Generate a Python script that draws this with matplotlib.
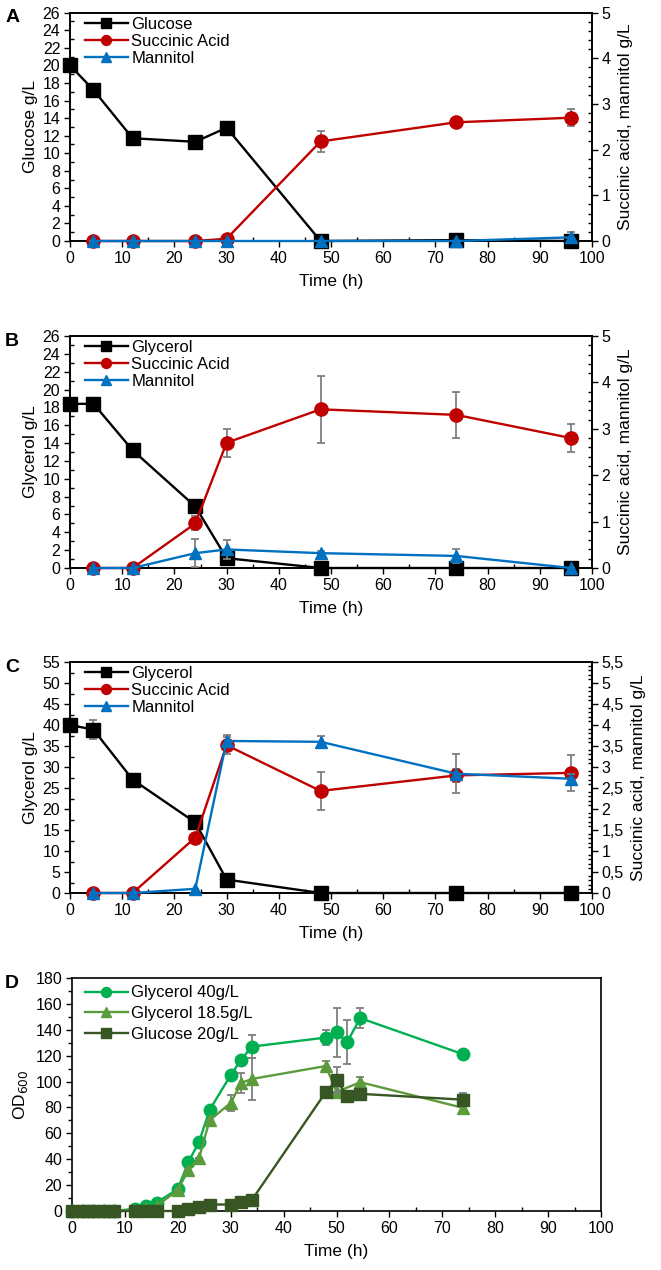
import numpy as np
import matplotlib
matplotlib.use("Agg")
import matplotlib.pyplot as plt
from matplotlib.ticker import MultipleLocator, FuncFormatter

# ---------------------------------------------------------------- data
t_main = [0, 4.5, 12, 24, 30, 48, 74, 96]      # substrate sampling times (h)
t_prod = [4.5, 12, 24, 30, 48, 74, 96]         # product sampling times (h)

# panel A (glucose 20 g/L)
glc_A = [20, 17.2, 11.7, 11.3, 12.9, 0, 0.1, 0]
glc_A_err = [0, 0, 0, 0, 0, 0, 0, 0]
sa_A = [0, 0, 0, 0.05, 2.18, 2.6, 2.7]
sa_A_err = [0, 0, 0, 0, 0.22, 0.05, 0.18]
man_A = [0, 0, 0, 0, 0, 0, 0.08]
man_A_err = [0, 0, 0, 0, 0, 0, 0.12]

# panel B (glycerol 18.5 g/L)
gly_B = [18.4, 18.4, 13.2, 6.9, 1.1, 0, 0, 0]
gly_B_err = [0, 0, 0, 0.7, 0, 0, 0, 0]
sa_B = [0, 0, 0.96, 2.7, 3.42, 3.3, 2.8]
sa_B_err = [0, 0, 0.15, 0.3, 0.72, 0.5, 0.3]
man_B = [0, 0, 0.32, 0.4, 0.32, 0.26, 0]
man_B_err = [0, 0, 0.3, 0.2, 0.05, 0.15, 0]

# panel C (glycerol 40 g/L)
gly_C = [40, 38.9, 27, 16.8, 3.2, 0, 0, 0]
gly_C_err = [0, 2.3, 0, 0, 0, 0, 0, 0]
sa_C = [0, 0, 1.32, 3.52, 2.43, 2.8, 2.86]
sa_C_err = [0, 0, 0, 0.2, 0.45, 0.15, 0.43]
man_C = [0, 0, 0.1, 3.62, 3.6, 2.84, 2.72]
man_C_err = [0, 0, 0, 0.15, 0.14, 0.47, 0.12]

# panel D (OD600)
t_g40 = [0, 2, 4, 6, 8, 12, 14, 16, 20, 22, 24, 26, 30, 32, 34, 48, 50, 52, 54.5, 74]
od_g40 = [0, 0, 0, 0, 0, 1.8, 3.9, 6.5, 17, 38, 53, 78, 105, 117, 127, 134, 138, 130.5, 149, 121]
od_g40_err = [0, 0, 0, 0, 0, 0, 0, 0, 0, 0, 0, 0, 0, 0, 9, 6, 19, 17, 8, 2]
t_g18 = [0, 2, 4, 6, 8, 12, 14, 16, 20, 22, 24, 26, 30, 32, 34, 48, 50, 54.5, 74]
od_g18 = [0, 0, 0, 0, 0, 1, 2, 4, 16, 32, 40.6, 70, 83.5, 99, 102, 112, 92, 99.5, 79.6]
od_g18_err = [0, 0, 0, 0, 0, 0, 0, 0, 0, 0, 0, 0, 6, 7.5, 16.5, 4, 0, 4, 4]
t_glc = [0, 2, 4, 6, 8, 12, 14, 16, 20, 22, 24, 26, 30, 32, 34, 48, 50, 52, 54.5, 74]
od_glc = [0, 0, 0, 0, 0, 0, 0, 0, 0, 1.8, 3, 5, 5, 7, 8.5, 92, 101, 89, 90.5, 86]
od_glc_err = [0, 0, 0, 0, 0, 0, 0, 0, 0, 0, 0, 0, 0, 0, 0, 0, 10, 0, 0, 5]

# ---------------------------------------------------------------- style
plt.rcParams["font.family"] = ["Liberation Sans", "DejaVu Sans"]
plt.rcParams["font.size"] = 11

black = "#000000"
red = "#c00000"
blue = "#0070c0"
err_color = "#7f7f7f"
lw = 1.7
tick_fs = 11.5
label_fs = 12.5
legend_fs = 12

fig = plt.figure(figsize=(6.61, 12.70), dpi=100)


def style_ticks(ax):
    ax.tick_params(axis="both", which="major", direction="out", length=4, width=1,
                   labelsize=tick_fs, pad=3)
    ax.tick_params(axis="both", which="minor", direction="in", length=3, width=1)
    for s in ax.spines.values():
        s.set_linewidth(1.2)


def series(ax, t, y, err, color, marker, ms, label, z):
    ax.errorbar(t, y, yerr=err, fmt="none", ecolor=err_color, elinewidth=1.3,
                capsize=3, capthick=1.3, zorder=z - 0.5, clip_on=False)
    line, = ax.plot(t, y, color=color, marker=marker, markersize=ms, linewidth=lw,
                    label=label, zorder=z, clip_on=False)
    return line


def panel(rect, letter, sub_name, sub, sub_err, sa, sa_err, man, man_err,
          ymax, ystep, yminor, y2max, y2step, y2minor, comma=False):
    ax = fig.add_axes(rect)
    ax2 = ax.twinx()

    h1 = series(ax, t_main, sub, sub_err, black, "s", 10, sub_name, 3)
    h2 = series(ax2, t_prod, sa, sa_err, red, "o", 9.5, "Succinic Acid", 4)
    h3 = series(ax2, t_prod, man, man_err, blue, "^", 9, "Mannitol", 5)

    ax.set_xlim(0, 100)
    ax.set_ylim(0, ymax)
    ax2.set_ylim(0, y2max)
    ax.xaxis.set_major_locator(MultipleLocator(10))
    ax.xaxis.set_minor_locator(MultipleLocator(5))
    ax.yaxis.set_major_locator(MultipleLocator(ystep))
    ax.yaxis.set_minor_locator(MultipleLocator(yminor))
    ax2.yaxis.set_major_locator(MultipleLocator(y2step))
    ax2.yaxis.set_minor_locator(MultipleLocator(y2minor))
    if comma:
        ax2.yaxis.set_major_formatter(
            FuncFormatter(lambda v, p: ("%g" % v).replace(".", ",")))
    style_ticks(ax)
    style_ticks(ax2)

    ax.set_xlabel("Time (h)", fontsize=label_fs, labelpad=6)
    ax.set_ylabel(sub_name + " g/L", fontsize=label_fs, labelpad=3)
    ax2.set_ylabel("Succinic acid, mannitol g/L", fontsize=label_fs, labelpad=5)

    ax2.legend(handles=[h1, h2, h3], loc="upper left", frameon=False,
               fontsize=legend_fs, handlelength=2.6, handletextpad=0.2,
               labelspacing=0.12, borderpad=0.25, borderaxespad=0.0,
               markerscale=0.75, bbox_to_anchor=(0.02, 1.0))
    fig.text(rect[0] - 0.098, rect[1] + rect[3] - 0.004, letter,
             fontsize=14, fontweight="bold", va="center", ha="left")
    return ax, ax2


W, H = 661.0, 1270.0


def rect_px(left, top, right, bottom):
    return [left / W, 1 - bottom / H, (right - left) / W, (bottom - top) / H]


panel(rect_px(70, 12.7, 592, 241), "A", "Glucose", glc_A, glc_A_err,
      sa_A, sa_A_err, man_A, man_A_err, 26, 2, 1, 5, 1, 0.2)
panel(rect_px(70, 336, 592, 568), "B", "Glycerol", gly_B, gly_B_err,
      sa_B, sa_B_err, man_B, man_B_err, 26, 2, 1, 5, 1, 0.2)
panel(rect_px(70, 662, 592, 893), "C", "Glycerol", gly_C, gly_C_err,
      sa_C, sa_C_err, man_C, man_C_err, 55, 5, 2.5, 5.5, 0.5, 0.1, comma=True)

# ---------------------------------------------------------------- panel D
rD = rect_px(72, 978, 601, 1211)
axD = fig.add_axes(rD)
hg40 = series(axD, t_g40, od_g40, od_g40_err, "#00b050", "o", 9, "Glycerol 40g/L", 3)
hg18 = series(axD, t_g18, od_g18, od_g18_err, "#5b9b3c", "^", 8.5, "Glycerol 18.5g/L", 4)
hglc = series(axD, t_glc, od_glc, od_glc_err, "#375623", "s", 9, "Glucose 20g/L", 5)
axD.set_xlim(0, 100)
axD.set_ylim(0, 180)
axD.xaxis.set_major_locator(MultipleLocator(10))
axD.xaxis.set_minor_locator(MultipleLocator(5))
axD.yaxis.set_major_locator(MultipleLocator(20))
axD.yaxis.set_minor_locator(MultipleLocator(10))
style_ticks(axD)
axD.tick_params(axis="y", which="minor", direction="out", length=3)
axD.tick_params(axis="x", which="minor", direction="in", length=3)
axD.set_xlabel("Time (h)", fontsize=label_fs, labelpad=6)
axD.set_ylabel("OD$_{600}$", fontsize=label_fs, labelpad=4)
axD.legend(handles=[hg40, hg18, hglc], loc="upper left", frameon=False,
           fontsize=legend_fs, handlelength=2.6, handletextpad=0.2,
           labelspacing=0.35, borderpad=0.45, borderaxespad=0.0,
           markerscale=0.8, bbox_to_anchor=(0.01, 1.0))
fig.text(rD[0] - 0.101, rD[1] + rD[3] - 0.004, "D",
         fontsize=14, fontweight="bold", va="center", ha="left")

fig.savefig("out.png", dpi=100)
